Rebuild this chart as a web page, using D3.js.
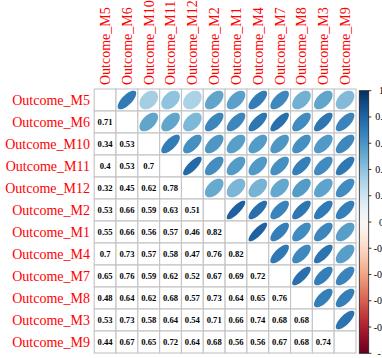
<!DOCTYPE html>
<html>
<head>
<meta charset="utf-8">
<script src="https://cdn.jsdelivr.net/npm/d3@7"></script>
<style>
  html, body { margin: 0; padding: 0; background: #fff; }
  svg { display: block; }
</style>
</head>
<body>
<svg id="chart" width="382" height="358"></svg>
<script>
// Variable order (rows top to bottom, columns left to right)
const variables = ["Outcome_M5", "Outcome_M6", "Outcome_M10", "Outcome_M11", "Outcome_M12",
  "Outcome_M2", "Outcome_M1", "Outcome_M4", "Outcome_M7", "Outcome_M8", "Outcome_M3", "Outcome_M9"];

// Lower-triangle correlations, row i holds r(i, 0..i-1)
const lowerTriangle = [
  [],
  [0.71],
  [0.34, 0.53],
  [0.4, 0.53, 0.7],
  [0.32, 0.45, 0.62, 0.78],
  [0.53, 0.66, 0.59, 0.63, 0.51],
  [0.55, 0.66, 0.56, 0.57, 0.46, 0.82],
  [0.7, 0.73, 0.57, 0.58, 0.47, 0.76, 0.82],
  [0.65, 0.76, 0.59, 0.62, 0.52, 0.67, 0.69, 0.72],
  [0.48, 0.64, 0.62, 0.68, 0.57, 0.73, 0.64, 0.65, 0.76],
  [0.53, 0.73, 0.58, 0.64, 0.54, 0.71, 0.66, 0.74, 0.68, 0.68],
  [0.44, 0.67, 0.65, 0.72, 0.64, 0.68, 0.56, 0.56, 0.67, 0.68, 0.74]
];

// Colour-legend ticks
const legendTicks = [1, 0.8, 0.6, 0.4, 0.2, 0, -0.2, -0.4, -0.6, -0.8, -1];

// RdBu diverging palette, from -1 to 1
const paletteAnchors = ["#67001F", "#B2182B", "#D6604D", "#F4A582", "#FDDBC7", "#FFFFFF",
  "#D1E5F0", "#92C5DE", "#4393C3", "#2166AC", "#053061"];

const svg = d3.select("#chart");
const n = variables.length;

const x = d3.scaleBand().domain(variables).range([94.2, 356]).padding(0);
const y = d3.scaleBand().domain(variables).range([89, 353]).padding(0);

const ramp = d3.interpolateRgbBasis(paletteAnchors);
const nBins = 200;
const colorOf = r => {
  const bin = Math.min(nBins - 1, Math.max(0, Math.ceil((r + 1) * nBins / 2) - 1));
  return ramp(bin / (nBins - 1));
};

// Build cell list
const cells = [];
for (let i = 0; i < n; i++) {
  for (let j = 0; j < n; j++) {
    let r = null;
    if (i > j) r = lowerTriangle[i][j];
    else if (j > i) r = lowerTriangle[j][i];
    cells.push({ row: variables[i], col: variables[j], i, j, r });
  }
}

// Grid cells
svg.append("g")
  .selectAll("rect")
  .data(cells)
  .join("rect")
  .attr("x", d => x(d.col))
  .attr("y", d => y(d.row))
  .attr("width", x.bandwidth())
  .attr("height", y.bandwidth())
  .attr("fill", "#fff")
  .attr("stroke", "#c4c4c4")
  .attr("stroke-width", 1.1);

// Ellipses in the upper triangle
const ellipsePath = d => {
  const cx = x(d.col) + x.bandwidth() / 2;
  const cy = y(d.row) + y.bandwidth() / 2;
  const ax = 0.425 * x.bandwidth();
  const ay = 0.425 * y.bandwidth();
  const half = Math.acos(d.r) / 2;
  const pts = d3.range(0, 100).map(t => {
    const k = t / 100 * 2 * Math.PI;
    return [cx + ax * Math.cos(k + half), cy - ay * Math.cos(k - half)];
  });
  return d3.line().curve(d3.curveLinearClosed)(pts);
};

svg.append("g")
  .selectAll("path")
  .data(cells.filter(d => d.j > d.i))
  .join("path")
  .attr("d", ellipsePath)
  .attr("fill", d => colorOf(d.r))
  .attr("stroke", "none");

// Coefficients in the lower triangle
svg.append("g")
  .selectAll("text")
  .data(cells.filter(d => d.i > d.j))
  .join("text")
  .attr("x", d => x(d.col) + x.bandwidth() / 2)
  .attr("y", d => y(d.row) + y.bandwidth() / 2)
  .attr("dy", "0.35em")
  .attr("text-anchor", "middle")
  .attr("font-family", "'Liberation Serif', 'Times New Roman', serif")
  .attr("font-weight", "bold")
  .attr("font-size", 8.6)
  .attr("fill", "#000")
  .text(d => String(d.r));

// Row labels
svg.append("g")
  .selectAll("text")
  .data(variables)
  .join("text")
  .attr("x", 90)
  .attr("y", d => y(d) + y.bandwidth() / 2)
  .attr("dy", "0.35em")
  .attr("text-anchor", "end")
  .attr("font-family", "'Liberation Serif', 'Times New Roman', serif")
  .attr("font-size", 14)
  .attr("fill", "#ff0000")
  .text(d => d);

// Column labels, rotated
svg.append("g")
  .selectAll("text")
  .data(variables)
  .join("text")
  .attr("transform", d => `translate(${x(d) + x.bandwidth() / 2},85) rotate(-90)`)
  .attr("dy", "0.35em")
  .attr("text-anchor", "start")
  .attr("font-family", "'Liberation Serif', 'Times New Roman', serif")
  .attr("font-size", 14)
  .attr("fill", "#ff0000")
  .text(d => d);

// Colour legend
const legendY = d3.scaleLinear().domain([-1, 1]).range([353.3, 90.7]);
const legendX0 = 359.3, legendX1 = 368.7;

const defs = svg.append("defs");
const grad = defs.append("linearGradient")
  .attr("id", "legendGrad")
  .attr("x1", 0).attr("y1", 1).attr("x2", 0).attr("y2", 0);
grad.selectAll("stop")
  .data(d3.range(0, 41))
  .join("stop")
  .attr("offset", d => d / 40)
  .attr("stop-color", d => ramp(d / 40));

svg.append("rect")
  .attr("x", legendX0)
  .attr("y", legendY(1))
  .attr("width", legendX1 - legendX0)
  .attr("height", legendY(-1) - legendY(1))
  .attr("fill", "url(#legendGrad)")
  .attr("stroke", "#222")
  .attr("stroke-width", 0.8);

const legendAxis = svg.append("g");
legendAxis.selectAll("line")
  .data(legendTicks)
  .join("line")
  .attr("x1", legendX1)
  .attr("x2", legendX1 + 2.6)
  .attr("y1", d => legendY(d))
  .attr("y2", d => legendY(d))
  .attr("stroke", "#000")
  .attr("stroke-width", 0.8);

legendAxis.selectAll("text")
  .data(legendTicks)
  .join("text")
  .attr("x", 381.6)
  .attr("y", d => legendY(d))
  .attr("dy", "0.35em")
  .attr("text-anchor", "middle")
  .attr("font-family", "'Liberation Serif', 'Times New Roman', serif")
  .attr("font-size", 10)
  .attr("fill", "#000")
  .text(d => String(Math.round(d * 10) / 10));
</script>
</body>
</html>
